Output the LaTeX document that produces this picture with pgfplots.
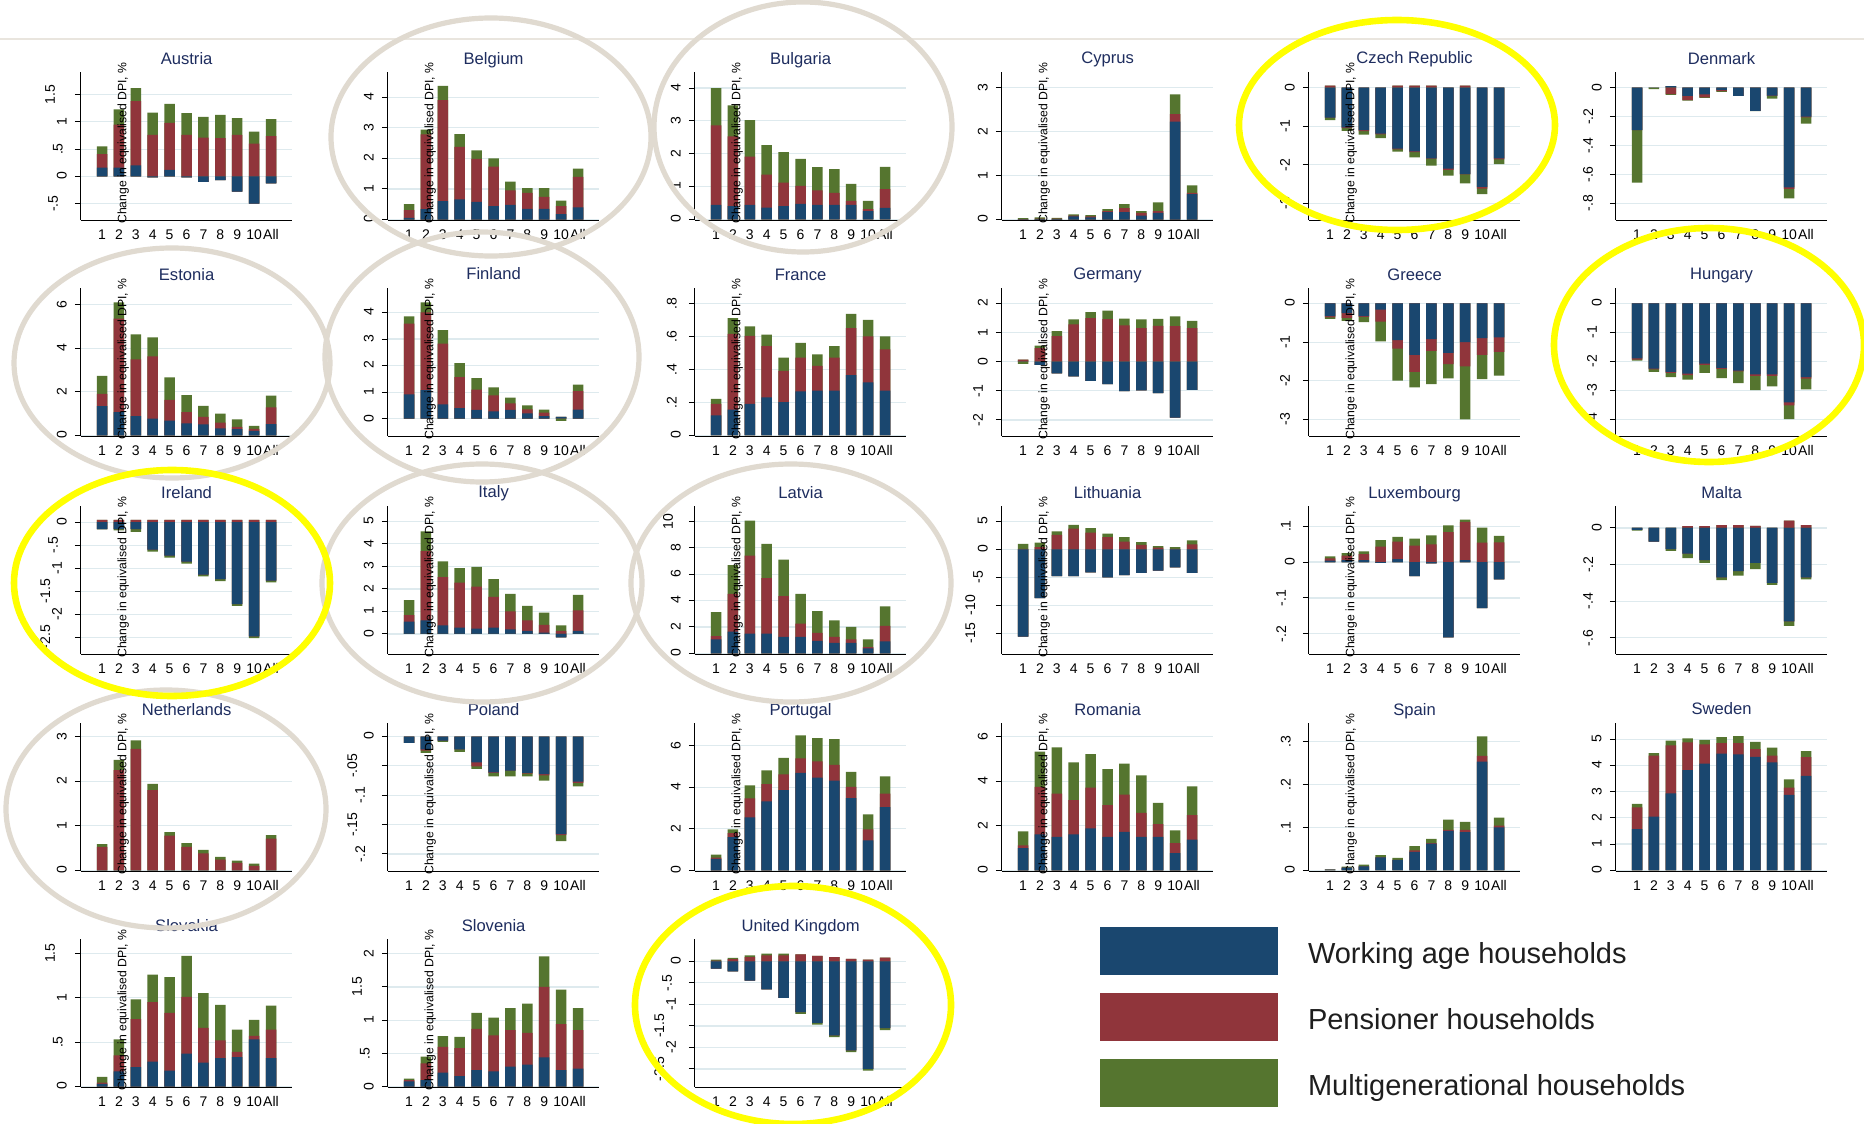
\documentclass[border=0pt]{standalone}
\usepackage{fontspec}
\setmainfont{Liberation Sans}
\usepackage{graphicx}
\usepackage{pgfplots}
\usepackage{pgfplotstable}
\pgfplotsset{compat=1.18}
\definecolor{bcol}{RGB}{26,71,111}
\definecolor{rcol}{RGB}{144,53,59}
\definecolor{gcol}{RGB}{85,117,47}
\definecolor{gridc}{RGB}{222,234,238}
\definecolor{titc}{RGB}{30,45,95}
\definecolor{beige}{RGB}{224,218,208}
\definecolor{yel}{RGB}{255,255,0}
\definecolor{legtext}{RGB}{30,30,30}

% rotated y tick label, offset from the axis by its own length (as in the original)
\newcommand{\R}[1]{\sbox0{#1}\makebox[2\wd0][c]{\rotatebox[origin=c]{90}{#1}}}

% columns: x, blue/red/green cumulative tops (positive), blue/red/green cumulative bottoms (negative)
\pgfplotstableread{
x bp rp gp bn rn gn
1 0.16 0.41 0.55 0 0 0
2 0.16 0.95 1.23 0 0 0
3 0.2 1.38 1.62 0 0 0
4 0 0.76 1.17 -0.02 -0.02 -0.02
5 0.12 0.98 1.33 0 0 0
6 0 0.76 1.16 -0.02 -0.02 -0.02
7 0 0.71 1.09 -0.1 -0.1 -0.1
8 0 0.7 1.13 -0.07 -0.07 -0.07
9 0 0.76 1.07 -0.28 -0.28 -0.28
10 0 0.6 0.82 -0.5 -0.5 -0.5
11 0 0.74 1.05 -0.13 -0.13 -0.13
}\Austria
\pgfplotstableread{
x bp rp gp bn rn gn
1 0.056 0.31 0.5 0 0 0
2 0.34 2.78 2.94 0 0 0
3 0.6 3.9 4.37 0 0 0
4 0.66 2.37 2.79 0 0 0
5 0.58 1.98 2.26 0 0 0
6 0.44 1.73 2.0 0 0 0
7 0.48 0.95 1.24 0 0 0
8 0.35 0.87 1.03 0 0 0
9 0.35 0.74 1.03 0 0 0
10 0.18 0.44 0.62 0 0 0
11 0.4 1.39 1.66 0 0 0
}\Belgium
\pgfplotstableread{
x bp rp gp bn rn gn
1 0.44 2.86 4.0 0 0 0
2 0.4 2.53 3.47 0 0 0
3 0.44 1.91 3.02 0 0 0
4 0.36 1.36 2.26 0 0 0
5 0.4 1.12 2.05 0 0 0
6 0.47 1.02 1.84 0 0 0
7 0.44 0.88 1.59 0 0 0
8 0.44 0.81 1.53 0 0 0
9 0.44 0.56 1.08 0 0 0
10 0.25 0.31 0.56 0 0 0
11 0.35 0.92 1.6 0 0 0
}\Bulgaria
\pgfplotstableread{
x bp rp gp bn rn gn
1 0.005 0.01 0.03 0 0 0
2 0.01 0.02 0.05 0 0 0
3 0.01 0.02 0.04 0 0 0
4 0.075 0.09 0.12 0 0 0
5 0.05 0.07 0.1 0 0 0
6 0.17 0.19 0.24 0 0 0
7 0.17 0.26 0.35 0 0 0
8 0.09 0.15 0.19 0 0 0
9 0.15 0.19 0.39 0 0 0
10 2.23 2.4 2.85 0 0 0
11 0.58 0.61 0.78 0 0 0
}\Cyprus
\pgfplotstableread{
x bp rp gp bn rn gn
1 0 0.05 0.05 -0.78 -0.78 -0.84
2 0 0 0 -1.03 -1.05 -1.12
3 0 0 0 -1.1 -1.13 -1.22
4 0 0 0 -1.19 -1.21 -1.31
5 0 0.05 0.05 -1.58 -1.6 -1.66
6 0 0.05 0.05 -1.65 -1.67 -1.81
7 0 0.05 0.05 -1.83 -1.84 -2.02
8 0 0 0 -2.1 -2.13 -2.28
9 0 0.05 0.05 -2.24 -2.25 -2.48
10 0 0 0 -2.57 -2.62 -2.76
11 0 0 0 -1.83 -1.86 -1.98
}\Czech
\pgfplotstableread{
x bp rp gp bn rn gn
1 0 0 0 -0.294 -0.294 -0.657
2 0 0 0 0 0 -0.01
3 0.01 0.01 0.01 0 -0.045 -0.05
4 0 0 0 -0.057 -0.087 -0.09
5 0 0 0 -0.046 -0.067 -0.07
6 0 0 0 -0.015 -0.025 -0.03
7 0 0 0 -0.057 -0.057 -0.057
8 0 0 0 -0.16 -0.16 -0.162
9 0 0 0 -0.055 -0.057 -0.076
10 0 0 0 -0.69 -0.7 -0.766
11 0 0 0 -0.2 -0.205 -0.248
}\Denmark
\pgfplotstableread{
x bp rp gp bn rn gn
1 1.34 1.9 2.73 0 0 0
2 1.06 5.35 6.1 0 0 0
3 0.88 3.49 4.63 0 0 0
4 0.77 3.62 4.5 0 0 0
5 0.68 1.63 2.66 0 0 0
6 0.55 1.06 1.84 0 0 0
7 0.5 0.85 1.35 0 0 0
8 0.32 0.58 1.0 0 0 0
9 0.29 0.39 0.73 0 0 0
10 0.21 0.3 0.43 0 0 0
11 0.52 1.28 1.82 0 0 0
}\Estonia
\pgfplotstableread{
x bp rp gp bn rn gn
1 0.92 3.58 3.85 0 0 0
2 1.08 4.0 4.38 0 0 0
3 0.54 2.83 3.33 0 0 0
4 0.4 1.57 2.09 0 0 0
5 0.33 1.1 1.53 0 0 0
6 0.28 0.88 1.18 0 0 0
7 0.33 0.58 0.79 0 0 0
8 0.2 0.35 0.5 0 0 0
9 0.1 0.23 0.34 0 0 0
10 0.07 0.07 0.07 0 0 -0.08
11 0.34 1.04 1.28 0 0 0
}\Finland
\pgfplotstableread{
x bp rp gp bn rn gn
1 0.12 0.19 0.22 0 0 0
2 0.155 0.615 0.71 0 0 0
3 0.19 0.603 0.66 0 0 0
4 0.23 0.54 0.61 0 0 0
5 0.2 0.39 0.47 0 0 0
6 0.266 0.47 0.56 0 0 0
7 0.27 0.42 0.49 0 0 0
8 0.27 0.47 0.54 0 0 0
9 0.365 0.65 0.736 0 0 0
10 0.32 0.6 0.7 0 0 0
11 0.27 0.52 0.6 0 0 0
}\France
\pgfplotstableread{
x bp rp gp bn rn gn
1 0 0.07 0.07 0 0 -0.07
2 0 0.47 0.55 -0.11 -0.11 -0.11
3 0 0.88 1.05 -0.4 -0.4 -0.4
4 0 1.28 1.45 -0.5 -0.5 -0.5
5 0 1.5 1.7 -0.66 -0.66 -0.66
6 0 1.46 1.75 -0.77 -0.77 -0.77
7 0 1.25 1.48 -1.01 -1.01 -1.01
8 0 1.15 1.45 -0.98 -0.98 -0.98
9 0 1.23 1.47 -1.08 -1.08 -1.08
10 0 1.22 1.56 -1.92 -1.92 -1.92
11 0 1.15 1.4 -0.97 -0.97 -0.97
}\Germany
\pgfplotstableread{
x bp rp gp bn rn gn
1 0 0 0 -0.33 -0.36 -0.4
2 0 0 0 -0.25 -0.37 -0.45
3 0 0 0 -0.33 -0.35 -0.48
4 0 0 0 -0.16 -0.47 -0.98
5 0 0 0 -0.95 -1.17 -2.0
6 0 0 0 -1.33 -1.77 -2.17
7 0 0 0 -0.92 -1.23 -2.09
8 0 0 0 -1.28 -1.57 -1.94
9 0 0 0 -1.0 -1.63 -3.0
10 0 0 0 -0.9 -1.33 -1.96
11 0 0 0 -0.88 -1.25 -1.87
}\Greece
\pgfplotstableread{
x bp rp gp bn rn gn
1 0 0 0 -1.9 -1.94 -1.98
2 0 0 0 -2.25 -2.28 -2.37
3 0 0 0 -2.37 -2.4 -2.55
4 0 0 0 -2.43 -2.48 -2.63
5 0 0 0 -2.08 -2.12 -2.4
6 0 0 0 -2.23 -2.26 -2.58
7 0 0 0 -2.32 -2.35 -2.75
8 0 0 0 -2.45 -2.5 -3.0
9 0 0 0 -2.45 -2.5 -2.87
10 0 0 0 -3.42 -3.52 -4.0
11 0 0 0 -2.55 -2.6 -2.97
}\Hungary
\pgfplotstableread{
x bp rp gp bn rn gn
1 0 0.05 0.05 -0.15 -0.15 -0.16
2 0 0.05 0.05 -0.15 -0.15 -0.18
3 0 0.05 0.05 -0.15 -0.15 -0.21
4 0 0.05 0.05 -0.6 -0.6 -0.64
5 0 0.05 0.05 -0.73 -0.73 -0.77
6 0 0.05 0.05 -0.86 -0.86 -0.9
7 0 0.05 0.05 -1.14 -1.14 -1.18
8 0 0.05 0.05 -1.24 -1.24 -1.28
9 0 0.05 0.05 -1.78 -1.78 -1.82
10 0 0.05 0.05 -2.48 -2.48 -2.52
11 0 0.05 0.05 -1.27 -1.27 -1.31
}\Ireland
\pgfplotstableread{
x bp rp gp bn rn gn
1 0.55 0.84 1.5 0 0 0
2 0.6 3.68 4.55 0 0 0
3 0.38 2.52 3.22 0 0 0
4 0.28 2.28 2.92 0 0 0
5 0.24 2.1 2.98 0 0 0
6 0.28 1.65 2.43 0 0 0
7 0.2 1.0 1.78 0 0 0
8 0.14 0.6 1.25 0 0 0
9 0.06 0.4 0.95 0 0 0
10 0 0.14 0.38 -0.15 -0.15 -0.15
11 0.14 1.05 1.73 0 0 0
}\Italy
\pgfplotstableread{
x bp rp gp bn rn gn
1 1.05 1.3 3.12 0 0 0
2 1.65 4.5 6.68 0 0 0
3 1.5 7.4 10.05 0 0 0
4 1.5 5.7 8.3 0 0 0
5 1.25 4.33 7.1 0 0 0
6 1.25 2.25 4.5 0 0 0
7 0.95 1.55 3.2 0 0 0
8 0.8 1.25 2.5 0 0 0
9 0.8 1.05 2.0 0 0 0
10 0.38 0.48 1.05 0 0 0
11 0.9 2.08 3.55 0 0 0
}\Latvia
\pgfplotstableread{
x bp rp gp bn rn gn
1 0 0.1 1.0 -15.6 -15.6 -15.6
2 0 0.4 1.2 -8.7 -8.7 -8.7
3 0 2.6 3.2 -4.8 -4.8 -4.8
4 0 3.7 4.4 -4.8 -4.8 -4.8
5 0 3.0 3.8 -4.1 -4.1 -4.1
6 0 2.2 2.8 -5.0 -5.0 -5.0
7 0 1.4 2.2 -4.6 -4.6 -4.6
8 0 0.8 1.3 -4.2 -4.2 -4.2
9 0 0.3 0.6 -3.8 -3.8 -3.8
10 0 0.1 0.4 -3.2 -3.2 -3.2
11 0 0.9 1.6 -4.2 -4.2 -4.2
}\Lithuania
\pgfplotstableread{
x bp rp gp bn rn gn
1 0.004 0.01 0.016 0 0 0
2 0.005 0.018 0.025 0 0 0
3 0.005 0.022 0.03 0 0 0
4 0 0.043 0.061 -0.002 -0.002 -0.002
5 0.008 0.057 0.07 0 0 0
6 0 0.046 0.065 -0.039 -0.039 -0.039
7 0 0.049 0.074 -0.004 -0.004 -0.004
8 0 0.083 0.102 -0.21 -0.21 -0.21
9 0.005 0.112 0.118 0 0 0
10 0 0.054 0.096 -0.128 -0.128 -0.128
11 0 0.055 0.073 -0.048 -0.048 -0.048
}\Luxembourg
\pgfplotstableread{
x bp rp gp bn rn gn
1 0 0 0 -0.01 -0.01 -0.015
2 0 0 0 -0.075 -0.075 -0.075
3 0 0 0 -0.115 -0.115 -0.125
4 0 0.01 0.01 -0.14 -0.14 -0.165
5 0 0.01 0.01 -0.175 -0.175 -0.19
6 0 0.015 0.015 -0.27 -0.27 -0.285
7 0 0.015 0.015 -0.235 -0.235 -0.26
8 0 0.012 0.012 -0.19 -0.19 -0.225
9 0 0 0 -0.3 -0.3 -0.31
10 0 0.04 0.04 -0.51 -0.51 -0.535
11 0 0.015 0.015 -0.27 -0.27 -0.28
}\Malta
\pgfplotstableread{
x bp rp gp bn rn gn
1 0 0.53 0.59 0 0 0
2 0 2.25 2.48 0 0 0
3 0 2.73 2.92 0 0 0
4 0 1.8 1.94 0 0 0
5 0 0.78 0.86 0 0 0
6 0 0.53 0.61 0 0 0
7 0 0.38 0.46 0 0 0
8 0 0.24 0.3 0 0 0
9 0 0.17 0.22 0 0 0
10 0 0.1 0.15 0 0 0
11 0 0.71 0.79 0 0 0
}\Netherlands
\pgfplotstableread{
x bp rp gp bn rn gn
1 0 0 0 -0.011 -0.011 -0.011
2 0 0 0 -0.022 -0.024 -0.028
3 0 0 0 -0.007 -0.007 -0.009
4 0 0 0 -0.022 -0.022 -0.026
5 0 0 0 -0.044 -0.051 -0.055
6 0 0 0 -0.061 -0.062 -0.068
7 0 0 0 -0.058 -0.058 -0.068
8 0 0 0 -0.062 -0.063 -0.068
9 0 0 0 -0.064 -0.066 -0.075
10 0 0 0 -0.166 -0.168 -0.178
11 0 0 0 -0.077 -0.079 -0.085
}\Poland
\pgfplotstableread{
x bp rp gp bn rn gn
1 0.55 0.62 0.76 0 0 0
2 1.6 1.8 1.97 0 0 0
3 2.55 3.47 4.1 0 0 0
4 3.32 4.15 4.82 0 0 0
5 3.87 4.62 5.42 0 0 0
6 4.7 5.4 6.5 0 0 0
7 4.47 5.25 6.37 0 0 0
8 4.32 5.08 6.32 0 0 0
9 3.48 4.02 4.75 0 0 0
10 1.45 1.98 2.7 0 0 0
11 3.05 3.7 4.53 0 0 0
}\Portugal
\pgfplotstableread{
x bp rp gp bn rn gn
1 1.0 1.12 1.75 0 0 0
2 1.62 3.75 5.33 0 0 0
3 1.5 3.45 5.52 0 0 0
4 1.62 3.15 4.85 0 0 0
5 1.88 3.72 5.22 0 0 0
6 1.5 2.93 4.55 0 0 0
7 1.73 3.4 4.8 0 0 0
8 1.5 2.58 4.27 0 0 0
9 1.5 2.08 3.03 0 0 0
10 0.77 1.22 1.8 0 0 0
11 1.38 2.48 3.77 0 0 0
}\Romania
\pgfplotstableread{
x bp rp gp bn rn gn
1 0.001 0.001 0.002 0 0 0
2 0.006 0.006 0.008 0 0 0
3 0.009 0.009 0.013 0 0 0
4 0.03 0.03 0.035 0 0 0
5 0.024 0.024 0.029 0 0 0
6 0.043 0.046 0.056 0 0 0
7 0.062 0.063 0.073 0 0 0
8 0.092 0.094 0.118 0 0 0
9 0.089 0.094 0.113 0 0 0
10 0.254 0.267 0.313 0 0 0
11 0.1 0.104 0.123 0 0 0
}\Spain
\pgfplotstableread{
x bp rp gp bn rn gn
1 1.57 2.4 2.53 0 0 0
2 2.05 4.37 4.47 0 0 0
3 2.93 4.77 4.95 0 0 0
4 3.82 4.88 5.03 0 0 0
5 4.07 4.8 4.98 0 0 0
6 4.45 4.85 5.08 0 0 0
7 4.42 4.85 5.12 0 0 0
8 4.33 4.62 4.9 0 0 0
9 4.12 4.37 4.68 0 0 0
10 2.88 3.15 3.47 0 0 0
11 3.6 4.32 4.55 0 0 0
}\Sweden
\pgfplotstableread{
x bp rp gp bn rn gn
1 0.03 0.045 0.11 0 0 0
2 0.17 0.35 0.53 0 0 0
3 0.22 0.76 0.98 0 0 0
4 0.28 0.95 1.26 0 0 0
5 0.18 0.83 1.23 0 0 0
6 0.37 1.01 1.47 0 0 0
7 0.27 0.66 1.05 0 0 0
8 0.32 0.52 0.92 0 0 0
9 0.33 0.39 0.64 0 0 0
10 0.53 0.57 0.75 0 0 0
11 0.32 0.64 0.91 0 0 0
}\Slovakia
\pgfplotstableread{
x bp rp gp bn rn gn
1 0.08 0.1 0.12 0 0 0
2 0.1 0.35 0.45 0 0 0
3 0.21 0.6 0.76 0 0 0
4 0.16 0.58 0.75 0 0 0
5 0.25 0.87 1.11 0 0 0
6 0.23 0.77 1.04 0 0 0
7 0.3 0.85 1.18 0 0 0
8 0.33 0.81 1.25 0 0 0
9 0.44 1.5 1.96 0 0 0
10 0.25 0.94 1.46 0 0 0
11 0.27 0.85 1.18 0 0 0
}\Slovenia
\pgfplotstableread{
x bp rp gp bn rn gn
1 0 0.02 0.04 -0.17 -0.17 -0.17
2 0 0.05 0.08 -0.23 -0.23 -0.23
3 0 0.1 0.14 -0.45 -0.45 -0.45
4 0 0.14 0.18 -0.65 -0.65 -0.65
5 0 0.14 0.18 -0.85 -0.85 -0.85
6 0 0.16 0.16 -1.18 -1.18 -1.22
7 0 0.13 0.13 -1.43 -1.43 -1.47
8 0 0.1 0.1 -1.72 -1.72 -1.76
9 0 0.06 0.06 -2.07 -2.07 -2.11
10 0 0.04 0.04 -2.5 -2.5 -2.54
11 0 0.09 0.09 -1.55 -1.55 -1.6
}\UK

\pgfplotsset{
  panel/.style={
    scale only axis, width=105.7pt, height=74pt, anchor=south west,
    xmin=-0.25, xmax=12.26,
    clip mode=individual,
    ybar, bar width=5.25pt, bar shift=0pt,
    axis lines*=left, axis line style={black, line width=0.5pt},
    xtick={1,2,3,4,5,6,7,8,9,10,11},
    xticklabels={1,2,3,4,5,6,7,8,9,10,All},
    xtick style={draw=none},
    ytick style={black, line width=0.5pt},
    tick align=outside, major tick length=3pt,
    ymajorgrids, grid style={gridc, line width=0.6pt},
    tick label style={font=\fontsize{7}{8}\selectfont},
    yticklabel style={anchor=east, inner sep=2.5pt},
    xticklabel style={inner sep=1.5pt},
    every axis title/.style={at={(0.5,1)}, anchor=base, yshift=4pt,
      font=\fontsize{8.3}{9}\selectfont, text=titc, inner sep=0pt},
    every axis plot/.append style={draw=none, bar shift=0pt},
  },
}
\newcommand{\bars}[1]{%
  \addplot[fill=gcol] table[x=x,y=gp]{#1};
  \addplot[fill=rcol] table[x=x,y=rp]{#1};
  \addplot[fill=bcol] table[x=x,y=bp]{#1};
  \addplot[fill=gcol] table[x=x,y=gn]{#1};
  \addplot[fill=rcol] table[x=x,y=rn]{#1};
  \addplot[fill=bcol] table[x=x,y=bn]{#1};
}
\newcommand{\ylab}{\node[rotate=90, font=\fontsize{6.1}{7}\selectfont, inner sep=0pt] at ([xshift=21.1pt]rel axis cs:0,0.52) {Change in equivalised DPI, \%};}

\begin{document}
\begin{tikzpicture}
\useasboundingbox (0,0) rectangle (932pt,-562pt);
\clip (0,0) rectangle (932pt,-562pt);
\fill[white] (0,0) rectangle (932pt,-562pt);
\draw[beige!70!white, line width=0.6pt] (0,-19.5pt) -- (932pt,-19.5pt);

% ---- row 1
\begin{axis}[panel, at={(40.45pt,-110pt)}, title={Austria}, ymin=-0.8, ymax=1.915,
  ytick={-0.5,0,0.5,1,1.5}, yticklabels={\R{-.5},\R{0},\R{.5},\R{1},\R{1.5}}]
\bars{\Austria}\ylab
\end{axis}
\begin{axis}[panel, at={(193.95pt,-110pt)}, title={Belgium}, ymin=-0.015, ymax=4.82,
  ytick={0,1,2,3,4}, yticklabels={\R{0},\R{1},\R{2},\R{3},\R{4}}]
\bars{\Belgium}\ylab
\end{axis}
\begin{axis}[panel, at={(347.45pt,-110pt)}, title={Bulgaria}, ymin=-0.02, ymax=4.49,
  ytick={0,1,2,3,4}, yticklabels={\R{0},\R{1},\R{2},\R{3},\R{4}}]
\bars{\Bulgaria}\ylab
\end{axis}
\begin{axis}[panel, at={(500.95pt,-110pt)}, title={Cyprus}, ymin=-0.01, ymax=3.36,
  ytick={0,1,2,3}, yticklabels={\R{0},\R{1},\R{2},\R{3}}]
\bars{\Cyprus}\ylab
\end{axis}
\begin{axis}[panel, at={(654.45pt,-110pt)}, title={Czech Republic}, ymin=-3.43, ymax=0.405,
  ytick={-3,-2,-1,0}, yticklabels={\R{-3},\R{-2},\R{-1},\R{0}}]
\bars{\Czech}\ylab
\end{axis}
\begin{axis}[panel, at={(807.95pt,-110pt)}, title={Denmark}, ymin=-0.915, ymax=0.108,
  ytick={-0.8,-0.6,-0.4,-0.2,0}, yticklabels={\R{-.8},\R{-.6},\R{-.4},\R{-.2},\R{0}}]
\bars{\Denmark}
\end{axis}

% ---- row 2
\begin{axis}[panel, at={(40.45pt,-218pt)}, title={Estonia}, ymin=-0.03, ymax=6.76,
  ytick={0,2,4,6}, yticklabels={\R{0},\R{2},\R{4},\R{6}}]
\bars{\Estonia}\ylab
\end{axis}
\begin{axis}[panel, at={(193.95pt,-218pt)}, title={Finland}, ymin=-0.65, ymax=4.92,
  ytick={0,1,2,3,4}, yticklabels={\R{0},\R{1},\R{2},\R{3},\R{4}}]
\bars{\Finland}\ylab
\end{axis}
\begin{axis}[panel, at={(347.45pt,-218pt)}, title={France}, ymin=-0.005, ymax=0.893,
  ytick={0,0.2,0.4,0.6,0.8}, yticklabels={\R{0},\R{.2},\R{.4},\R{.6},\R{.8}}]
\bars{\France}\ylab
\end{axis}
\begin{axis}[panel, at={(500.95pt,-218pt)}, title={Germany}, ymin=-2.55, ymax=2.53,
  ytick={-2,-1,0,1,2}, yticklabels={\R{-2},\R{-1},\R{0},\R{1},\R{2}}]
\bars{\Germany}\ylab
\end{axis}
\begin{axis}[panel, at={(654.45pt,-218pt)}, title={Greece}, ymin=-3.43, ymax=0.40,
  ytick={-3,-2,-1,0}, yticklabels={\R{-3},\R{-2},\R{-1},\R{0}}]
\bars{\Greece}\ylab
\end{axis}
\begin{axis}[panel, at={(807.95pt,-218pt)}, title={Hungary}, ymin=-4.58, ymax=0.53,
  ytick={-4,-3,-2,-1,0}, yticklabels={\R{-4},\R{-3},\R{-2},\R{-1},\R{0}}]
\bars{\Hungary}
\end{axis}

% ---- row 3
\begin{axis}[panel, at={(40.45pt,-327pt)}, title={Ireland}, ymin=-2.865, ymax=0.35,
  ytick={-2.5,-2,-1.5,-1,-0.5,0}, yticklabels={\R{-2.5},\R{-2},\R{-1.5},\R{-1},\R{-.5},\R{0}}]
\bars{\Ireland}\ylab
\end{axis}
\begin{axis}[panel, at={(193.95pt,-327pt)}, title={Italy}, ymin=-0.89, ymax=5.68,
  ytick={0,1,2,3,4,5}, yticklabels={\R{0},\R{1},\R{2},\R{3},\R{4},\R{5}}]
\bars{\Italy}\ylab
\end{axis}
\begin{axis}[panel, at={(347.45pt,-327pt)}, title={Latvia}, ymin=-0.05, ymax=11.16,
  ytick={0,2,4,6,8,10}, yticklabels={\R{0},\R{2},\R{4},\R{6},\R{8},\R{10}}]
\bars{\Latvia}\ylab
\end{axis}
\begin{axis}[panel, at={(500.95pt,-327pt)}, title={Lithuania}, ymin=-18.7, ymax=7.75,
  ytick={-15,-10,-5,0,5}, yticklabels={\R{-15},\R{-10},\R{-5},\R{0},\R{5}}]
\bars{\Lithuania}\ylab
\end{axis}
\begin{axis}[panel, at={(654.45pt,-327pt)}, title={Luxembourg}, ymin=-0.256, ymax=0.156,
  ytick={-0.2,-0.1,0,0.1}, yticklabels={\R{-.2},\R{-.1},\R{0},\R{.1}}]
\bars{\Luxembourg}\ylab
\end{axis}
\begin{axis}[panel, at={(807.95pt,-327pt)}, title={Malta}, ymin=-0.688, ymax=0.12,
  ytick={-0.6,-0.4,-0.2,0}, yticklabels={\R{-.6},\R{-.4},\R{-.2},\R{0}}]
\bars{\Malta}
\end{axis}

% ---- row 4
\begin{axis}[panel, at={(40.45pt,-435.5pt)}, title={Netherlands}, ymin=-0.015, ymax=3.31,
  ytick={0,1,2,3}, yticklabels={\R{0},\R{1},\R{2},\R{3}}]
\bars{\Netherlands}\ylab
\end{axis}
\begin{axis}[panel, at={(193.95pt,-435.5pt)}, title={Poland}, ymin=-0.229, ymax=0.023,
  ytick={-0.2,-0.15,-0.1,-0.05,0}, yticklabels={\R{-.2},\R{-.15},\R{-.1},\R{-.05},\R{0}}]
\bars{\Poland}\ylab
\end{axis}
\begin{axis}[panel, at={(347.45pt,-435.5pt)}, title={Portugal}, ymin=-0.03, ymax=7.1,
  ytick={0,2,4,6}, yticklabels={\R{0},\R{2},\R{4},\R{6}}]
\bars{\Portugal}\ylab
\end{axis}
\begin{axis}[panel, at={(500.95pt,-435.5pt)}, title={Romania}, ymin=-0.03, ymax=6.62,
  ytick={0,2,4,6}, yticklabels={\R{0},\R{2},\R{4},\R{6}}]
\bars{\Romania}\ylab
\end{axis}
\begin{axis}[panel, at={(654.45pt,-435.5pt)}, title={Spain}, ymin=-0.002, ymax=0.344,
  ytick={0,0.1,0.2,0.3}, yticklabels={\R{0},\R{.1},\R{.2},\R{.3}}]
\bars{\Spain}\ylab
\end{axis}
\begin{axis}[panel, at={(807.95pt,-435.5pt)}, title={Sweden}, ymin=-0.03, ymax=5.62,
  ytick={0,1,2,3,4,5}, yticklabels={\R{0},\R{1},\R{2},\R{3},\R{4},\R{5}}]
\bars{\Sweden}
\end{axis}

% ---- row 5
\begin{axis}[panel, at={(40.45pt,-543.5pt)}, title={Slovakia}, ymin=-0.005, ymax=1.66,
  ytick={0,0.5,1,1.5}, yticklabels={\R{0},\R{.5},\R{1},\R{1.5}}]
\bars{\Slovakia}\ylab
\end{axis}
\begin{axis}[panel, at={(193.95pt,-543.5pt)}, title={Slovenia}, ymin=-0.005, ymax=2.22,
  ytick={0,0.5,1,1.5,2}, yticklabels={\R{0},\R{.5},\R{1},\R{1.5},\R{2}}]
\bars{\Slovenia}\ylab
\end{axis}
\begin{axis}[panel, at={(347.45pt,-543.5pt)}, title={United Kingdom}, ymin=-2.92, ymax=0.52,
  ytick={-2.5,-2,-1.5,-1,-0.5,0}, yticklabels={\R{-2.5},\R{-2},\R{-1.5},\R{-1},\R{-.5},\R{0}}]
\bars{\UK}
\end{axis}

% ---- legend
\begin{axis}[at={(550pt,-562pt)}, anchor=south west, scale only axis,
  width=382pt, height=98.5pt, hide axis, xmin=0, xmax=1, ymin=0, ymax=1,
  legend cell align=left,
  legend style={at={(0,1)}, anchor=north west, draw=none, fill=none,
    inner sep=0pt, outer sep=0pt, row sep=9pt,
    font=\fontsize{14.5}{16}\selectfont, text=legtext,
    nodes={inner sep=0pt},
    /tikz/every odd column/.append style={column sep=15pt}},
  legend image code/.code={\fill[#1] (0pt,-10.3pt) rectangle (89pt,13.7pt);}]
\addlegendimage{fill=bcol, draw=none}
\addlegendentry{Working age households}
\addlegendimage{fill=rcol, draw=none}
\addlegendentry{Pensioner households}
\addlegendimage{fill=gcol, draw=none}
\addlegendentry{Multigenerational households}
\end{axis}

% ---- annotation ellipses
\begin{scope}[line width=2.6pt, draw=beige]
\draw (245.5pt,-68.5pt) ellipse [x radius=80pt, y radius=59.5pt];
\draw (401.5pt,-63.5pt) ellipse [x radius=74.5pt, y radius=62.5pt];
\draw (86pt,-181.5pt) ellipse [x radius=79pt, y radius=57.5pt];
\draw (241pt,-178.5pt) ellipse [x radius=78.5pt, y radius=62.5pt];
\draw (241pt,-291.5pt) ellipse [x radius=80pt, y radius=59.5pt];
\draw (395.5pt,-291.5pt) ellipse [x radius=80pt, y radius=59.5pt];
\draw (83pt,-404.5pt) ellipse [x radius=80pt, y radius=59.5pt];
\end{scope}
\begin{scope}[line width=3.3pt, draw=yel]
\draw (698.5pt,-62.5pt) ellipse [x radius=79pt, y radius=52.5pt];
\draw (854.5pt,-172.5pt) ellipse [x radius=77.5pt, y radius=58.5pt];
\draw (86pt,-291.5pt) ellipse [x radius=79pt, y radius=56.5pt];
\draw (396.5pt,-502.5pt) ellipse [x radius=79pt, y radius=59.5pt];
\end{scope}
\end{tikzpicture}
\end{document}
